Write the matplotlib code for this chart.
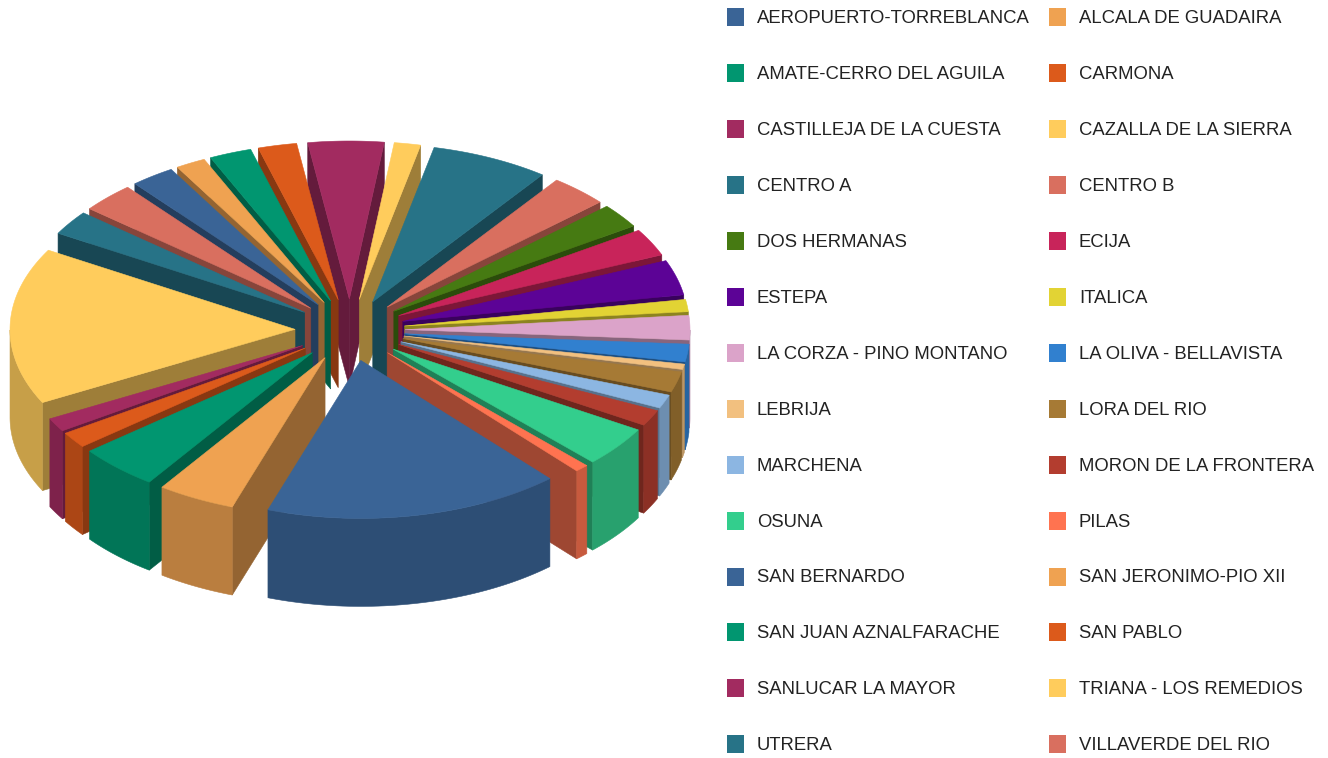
import numpy as np
import matplotlib
matplotlib.use('Agg')
import matplotlib.pyplot as plt
from matplotlib.patches import Polygon, Rectangle

names = ['AEROPUERTO-TORREBLANCA', 'ALCALA DE GUADAIRA', 'AMATE-CERRO DEL AGUILA', 'CARMONA',
         'CASTILLEJA DE LA CUESTA', 'CAZALLA DE LA SIERRA', 'CENTRO A', 'CENTRO B',
         'DOS HERMANAS', 'ECIJA', 'ESTEPA', 'ITALICA',
         'LA CORZA - PINO MONTANO', 'LA OLIVA - BELLAVISTA', 'LEBRIJA', 'LORA DEL RIO',
         'MARCHENA', 'MORON DE LA FRONTERA', 'OSUNA', 'PILAS',
         'SAN BERNARDO', 'SAN JERONIMO-PIO XII', 'SAN JUAN AZNALFARACHE', 'SAN PABLO',
         'SANLUCAR LA MAYOR', 'TRIANA - LOS REMEDIOS', 'UTRERA', 'VILLAVERDE DEL RIO']
# share of the total in percent
shares = [2.5, 1.7, 2.4, 2.2, 4.3, 1.5, 6.7, 3.3, 2.5, 2.8, 3.6, 1.25, 2.5, 1.8,
          0.55, 2.1, 1.4, 1.65, 4.15, 0.78, 16.87, 4.43, 4.6, 1.65, 1.4, 16.06, 2.5, 3.05]
palette = ['#3A6496', '#EFA251', '#019670', '#DC5A1B', '#A22B60', '#FFCC5C', '#277387', '#D96F5F',
           '#467A12', '#C8245A', '#5C0396', '#E2D334', '#DBA3C9', '#3180CF', '#F2C07F', '#A67A35',
           '#8CB6E2', '#B33D2F', '#33CE8D', '#FF7350']

# pie geometry in image pixels
CX, CY = 350, 330
RX, RY = 285, 158
EX, EY = 55, 31
DEPTH = 88
START = 320.0


def shade(color, f):
    r, g, b = matplotlib.colors.to_rgb(color)
    return (r * f, g * f, b * f)


def rim(t, ox, oy):
    return ox + RX * np.sin(t), oy - RY * np.cos(t)


def face(ax, pts, color):
    ax.add_patch(Polygon(pts, closed=True, facecolor=color, edgecolor=color, lw=0.4))


def draw_slice(ax, t0, t1, color):
    mid = (t0 + t1) / 2
    ox = CX + EX * np.sin(mid)
    oy = CY - EY * np.cos(mid)
    ts = np.linspace(t0, t1, 60)
    x, y = rim(ts, ox, oy)
    # cut walls, only the ones facing the viewer
    for t, visible in ((t0, np.sin(t0) < 0), (t1, np.sin(t1) > 0)):
        if visible:
            px, py = rim(t, ox, oy)
            face(ax, [(ox, oy), (px, py), (px, py + DEPTH), (ox, oy + DEPTH)], shade(color, 0.62))
    # outer wall, front half only
    front = np.cos(ts) < 0
    if front.any():
        fx, fy = x[front], y[front]
        pts = np.column_stack([np.r_[fx, fx[::-1]], np.r_[fy, fy[::-1] + DEPTH]])
        face(ax, pts, shade(color, 0.78))
    face(ax, np.column_stack([np.r_[ox, x], np.r_[oy, y]]), color)


fig = plt.figure(figsize=(13.28, 7.58), dpi=100)
ax = fig.add_axes([0, 0, 1, 1])
ax.set_xlim(0, 1328)
ax.set_ylim(758, 0)
ax.axis('off')

edges = np.radians(START + np.cumsum(np.r_[0, shares]) / np.sum(shares) * 360)
colors = [palette[i % len(palette)] for i in range(len(names))]
# back slices first
mids = (edges[:-1] + edges[1:]) / 2
for i in np.argsort(-np.cos(mids)):
    draw_slice(ax, edges[i], edges[i + 1], colors[i])

# legend, filled row by row
for i, name in enumerate(names):
    row, col = i // 2, i % 2
    y = 17 + row * 55.95
    sx = 727 if col == 0 else 1049
    ax.add_patch(Rectangle((sx, y - 9), 17, 18, facecolor=colors[i], edgecolor='none'))
    ax.text(sx + 30, y + 1.5, name, fontsize=13.35, family='Liberation Sans', color='#222222',
            va='center', ha='left')

fig.savefig('out.png', dpi=100)
